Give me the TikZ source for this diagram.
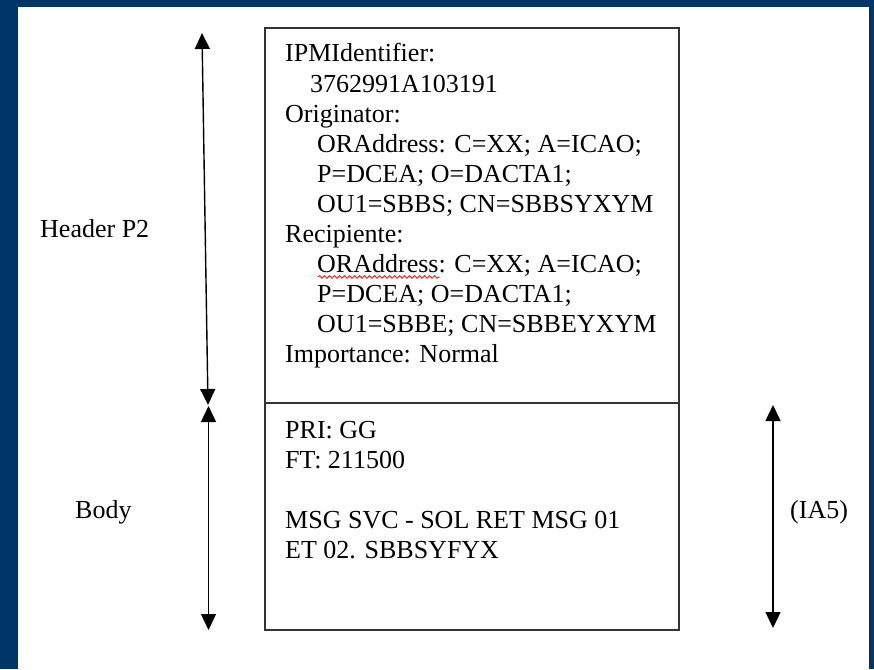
\documentclass[tikz,border=0pt]{standalone}
\usepackage{fontspec}
\setmainfont{Liberation Serif}
\usetikzlibrary{arrows.meta,decorations.pathmorphing}
\definecolor{frameblue}{HTML}{003667}
\definecolor{boxline}{HTML}{333333}
\begin{document}
\begin{tikzpicture}[x=1pt,y=-1pt,
  txt/.style={anchor=base west,inner sep=0pt,text=black,font=\fontsize{26}{30}\selectfont},
  dimarrow/.style={line width=1.4pt,{Triangle[width=15pt,length=16pt]}-{Triangle[width=15pt,length=16pt]}},
  boxedge/.style={draw=boxline,line width=1.2pt}]
  % page and blue frame
  \useasboundingbox (0,0) rectangle (874,669);
  \fill[frameblue] (0,0) rectangle (874,669);
  \fill[white] (18,7) rectangle (869,669);

  % message box with header / body divider
  \draw[boxedge] (265,28) rectangle (679,630);
  \draw[draw=boxline,line width=2pt] (265,403) -- (679,403);

  % header P2 contents
  \foreach \i/\dx/\t in {
    0/0/{IPMIdentifier:},
    1/25/{3762991A103191},
    2/0/{Originator:},
    3/32/{ORAddress: C=XX; A=ICAO;},
    4/32/{P=DCEA; O=DACTA1;},
    5/32/{OU1=SBBS; CN=SBBSYXYM},
    6/0/{Recipiente:},
    7/32/{ORAddress: C=XX; A=ICAO;},
    8/32/{P=DCEA; O=DACTA1;},
    9/32/{OU1=SBBE; CN=SBBEYXYM},
    10/0/{Importance: Normal}}
    \node[txt] (h\i) at (285+\dx,62+30*\i) {\t};

  % spell-check squiggle under the second ORAddress
  \draw[red,line width=0.8pt,decorate,
        decoration={snake,amplitude=1.3pt,segment length=5pt}]
    (318,277) -- (440,277);

  % body contents
  \node[txt] (b1) at (285,438) {PRI: GG};
  \node[txt] (b2) at (285,468) {FT: 211500};
  \node[txt] (b3) at (285,528) {MSG SVC - SOL RET MSG 01};
  \node[txt] (b4) at (285,558) {ET 02. SBBSYFYX};

  % side labels
  \node[txt] (lhead) at (40,237) {Header P2};
  \node[txt] (lbody) at (75,518) {Body};
  \node[txt] (lia5) at (790,518) {(IA5)};

  % extent arrows
  \coordinate (hTop) at (202,33);
  \coordinate (hBot) at (208,405);
  \coordinate (bTop) at (208.5,406);
  \coordinate (bBot) at (208.5,630);
  \coordinate (iTop) at (773,405);
  \coordinate (iBot) at (773,628);
  \draw[dimarrow] (hTop) -- (hBot);
  \draw[dimarrow] (bTop) -- (bBot);
  \draw[dimarrow] (iTop) -- (iBot);
\end{tikzpicture}
\end{document}
